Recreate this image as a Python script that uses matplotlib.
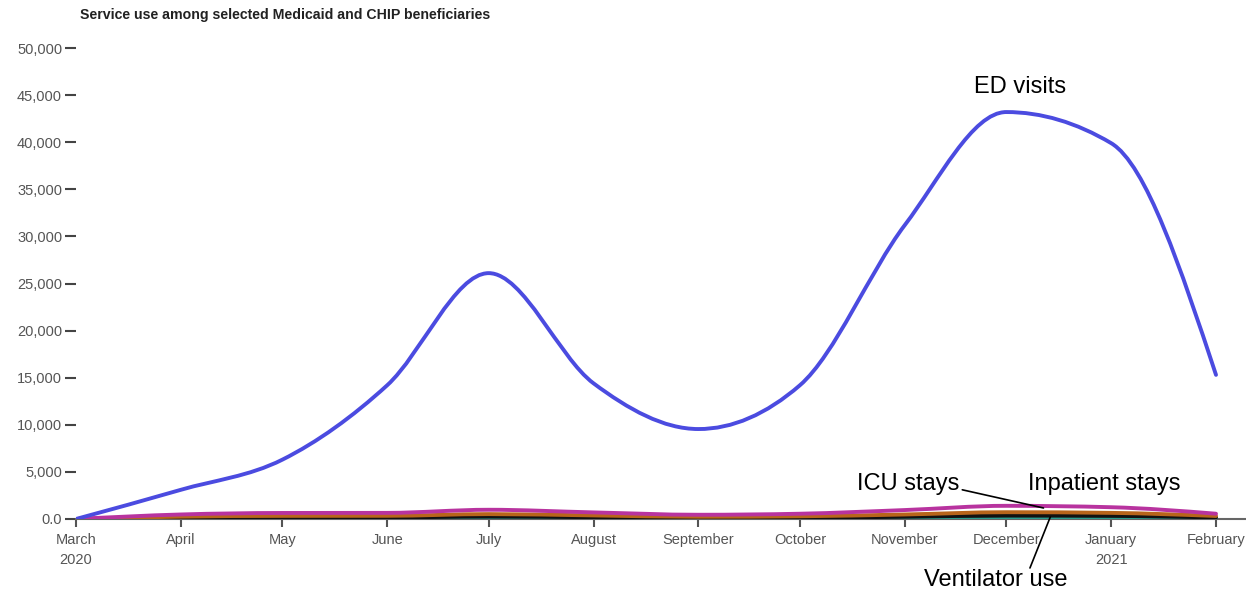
import matplotlib
matplotlib.use("Agg")
import matplotlib.pyplot as plt
import matplotlib.dates as mdates
from matplotlib.path import Path
from matplotlib.patches import PathPatch
import numpy as np
import datetime as dt

plt.rcParams['font.family'] = ['Liberation Sans', 'DejaVu Sans']

months = [dt.date(2020, 3, 1), dt.date(2020, 4, 1), dt.date(2020, 5, 1), dt.date(2020, 6, 1),
          dt.date(2020, 7, 1), dt.date(2020, 8, 1), dt.date(2020, 9, 1), dt.date(2020, 10, 1),
          dt.date(2020, 11, 1), dt.date(2020, 12, 1), dt.date(2021, 1, 1), dt.date(2021, 2, 1)]
month_labels = ["March\n2020", "April", "May", "June", "July", "August", "September",
                "October", "November", "December", "January\n2021", "February"]

ed_visits = [0, 3100, 6300, 14200, 26100, 14400, 9550, 14200, 31200, 43200, 39900, 15300]
inpatient = [0, 480, 640, 650, 980, 700, 450, 560, 950, 1400, 1250, 560]
icu = [0, 250, 330, 340, 520, 380, 240, 290, 480, 720, 650, 320]
other = [0, 120, 160, 170, 260, 190, 120, 140, 240, 360, 330, 160]
ventilator = [0, 40, 50, 50, 80, 60, 40, 45, 70, 110, 100, 50]

series = [
    (ventilator, "#2a9d8f"),
    (other, "#111111"),
    (icu, "#b8651b"),
    (inpatient, "#b8339f"),
    (ed_visits, "#4b4be0"),
]
y_ticks = np.arange(0, 50001, 5000)


def monotone_path(xs, ys):
    # d3 curveMonotoneX as cubic bezier segments
    xs = np.asarray(xs, float)
    ys = np.asarray(ys, float)
    n = len(xs)
    h = np.diff(xs)
    s = np.diff(ys) / h
    t = np.zeros(n)
    for i in range(1, n - 1):
        p = (s[i - 1] * h[i] + s[i] * h[i - 1]) / (h[i - 1] + h[i])
        t[i] = (np.sign(s[i - 1]) + np.sign(s[i])) * min(abs(s[i - 1]), abs(s[i]), 0.5 * abs(p))
    t[0] = (3 * s[0] - t[1]) / 2
    t[-1] = (3 * s[-1] - t[-2]) / 2
    verts = [(xs[0], ys[0])]
    codes = [Path.MOVETO]
    for i in range(n - 1):
        dx = h[i] / 3
        verts += [(xs[i] + dx, ys[i] + dx * t[i]),
                  (xs[i + 1] - dx, ys[i + 1] - dx * t[i + 1]),
                  (xs[i + 1], ys[i + 1])]
        codes += [Path.CURVE4] * 3
    return Path(verts, codes)


def d(y, m, day):
    return mdates.date2num(dt.date(y, m, day))


fig = plt.figure(figsize=(12.46, 5.90), dpi=100)
ax = fig.add_axes([76 / 1246, 1 - 519 / 590, 1 - 76 / 1246, (519 - 48) / 590])

x = mdates.date2num(months)
for vals, col in series:
    ax.add_patch(PathPatch(monotone_path(x, vals), facecolor="none", edgecolor=col,
                           lw=2.8, capstyle="round", joinstyle="round", zorder=3))

ax.set_xlim(x[0], x[-1] + 30 / ((1216 - 76) / (x[-1] - x[0])))
ax.set_ylim(0, 50000)

for side in ["top", "right", "left"]:
    ax.spines[side].set_visible(False)
ax.spines["bottom"].set_color("#666666")
ax.spines["bottom"].set_linewidth(1.5)

ax.set_xticks(x)
ax.set_xticklabels(month_labels, linespacing=1.6)
ax.set_yticks(y_ticks)
ax.set_yticklabels(["0.0"] + [f"{v:,}" for v in y_ticks[1:]])
ax.tick_params(axis="x", length=6, width=1.5, color="#555555", labelsize=10.5,
               labelcolor="#555555", pad=4)
ax.tick_params(axis="y", length=8, width=1.5, color="#444444", labelsize=10.5,
               labelcolor="#555555", pad=2)

fig.text(80 / 1246, 1 - 15 / 590, "Service use among selected Medicaid and CHIP beneficiaries",
         fontsize=10.2, fontweight="bold", color="#222222", va="center")

ax.text(d(2020, 12, 5), 45900, "ED visits", fontsize=17, ha="center", va="center", color="black")
ax.text(d(2020, 11, 2), 3700, "ICU stays", fontsize=17, ha="center", va="center", color="black")
ax.text(d(2020, 12, 30), 3700, "Inpatient stays", fontsize=17, ha="center", va="center",
        color="black")
ax.text(d(2020, 11, 28), -6500, "Ventilator use", fontsize=17, ha="center", va="center",
        color="black", clip_on=False)
ax.annotate("", xy=(d(2020, 12, 12), 1170), xytext=(d(2020, 11, 18), 3100),
            arrowprops=dict(arrowstyle="-", color="black", lw=1.2, shrinkA=0, shrinkB=0))
ax.annotate("", xy=(d(2020, 12, 14), 200), xytext=(d(2020, 12, 8), -5200),
            annotation_clip=False,
            arrowprops=dict(arrowstyle="-", color="black", lw=1.2, shrinkA=0, shrinkB=0))

fig.savefig("out.png", dpi=100)
